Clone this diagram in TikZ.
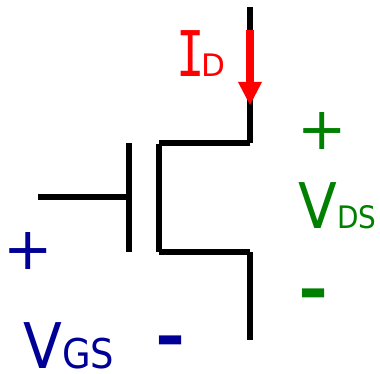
\documentclass[tikz,border=0pt]{standalone}
\usepackage{fontspec}
\setmainfont{DejaVu Sans}[FakeStretch=0.9]
\newfontfamily\monoface{DejaVu Sans Mono}[FakeStretch=0.75]
\newfontfamily\plainface{DejaVu Sans}
\newfontfamily\boldface{DejaVu Sans Bold}[FakeStretch=1.15]
\newfontfamily\wideface{DejaVu Sans}
\definecolor{labgreen}{RGB}{0,128,0}
\definecolor{labblue}{RGB}{0,0,150}
\begin{document}
\begin{tikzpicture}[x=1pt,y=-1pt,
  wire/.style={line width=6pt,black},
  big/.style={font=\fontsize{63}{63}\selectfont},
  sign/.style={font=\fontsize{59}{59}\selectfont},
  small/.style={font=\fontsize{31}{31}\selectfont},
  redlab/.style={text=red,inner sep=0pt,anchor=base west},
  greenlab/.style={text=labgreen,inner sep=0pt,anchor=base west},
  bluelab/.style={text=labblue,inner sep=0pt,anchor=base west}]
\useasboundingbox (0,0) rectangle (380,374);
\coordinate (top) at (250,7);
\coordinate (dcorner) at (250,143.5);
\coordinate (dleft) at (159,143.5);
\coordinate (sleft) at (159,252);
\coordinate (scorner) at (250,252);
\coordinate (bottom) at (250,340);
\coordinate (gl) at (38,197.5);
\coordinate (gr) at (129,197.5);
\coordinate (gt) at (129,143);
\coordinate (gb) at (129,252);
\coordinate (as) at (250,30);
\coordinate (ae) at (250,105);
\draw[wire] (top) -- (dcorner);
\draw[wire] (dcorner) -- (dleft);
\draw[wire] (159,144) -- (159,252);
\draw[wire] (sleft) -- (scorner);
\draw[wire] (scorner) -- (bottom);
\draw[wire] (gl) -- (gr);
\draw[wire] (gt) -- (gb);
\draw[line width=7.5pt,red] (as) -- (250,84);
\fill[red] (238,82) -- (262,82) -- (ae) -- cycle;
\node[redlab,big] (i) at (181,77) {\makebox[20pt][c]{\monoface I}};
\node[redlab,small] (d) at (201,77) {\wideface D};
\node[greenlab,sign] (plusd) at (297,150) {\plainface +};
\node[greenlab,big] (vd) at (298,229) {V};
\node[greenlab,small] (ds) at (337,229) {DS};
\node[greenlab,big] (minusd) at (298,311) {\boldface -};
\node[bluelab,sign] (plusg) at (3,269) {\plainface +};
\node[bluelab,big] (vg) at (23,368) {V};
\node[bluelab,font=\fontsize{41}{41}\selectfont] (gs) at (62,368) {GS};
\node[bluelab,big] (minusg) at (155,358) {\boldface -};
\end{tikzpicture}
\end{document}
